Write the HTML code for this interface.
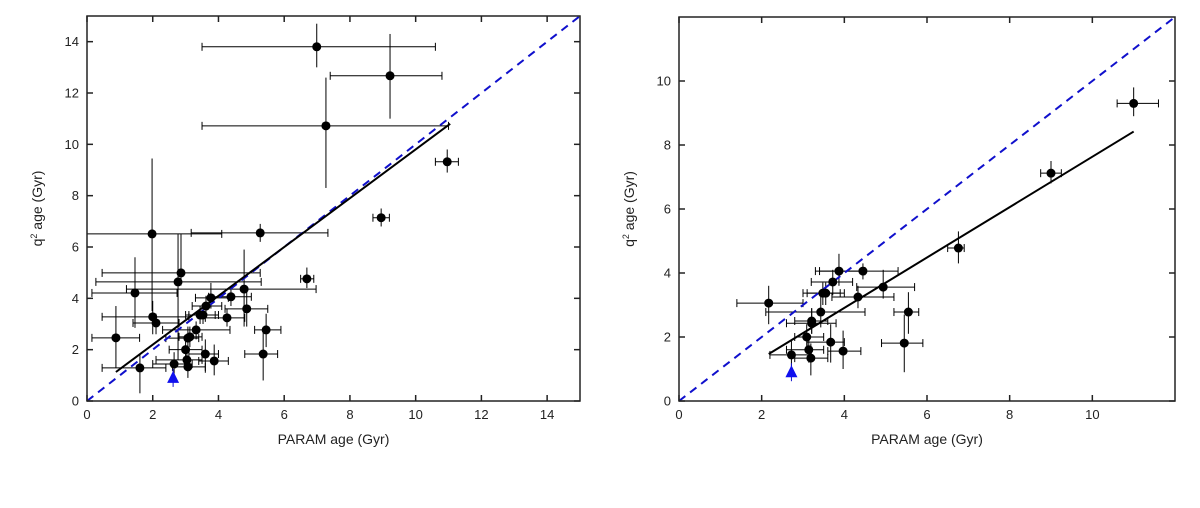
<!DOCTYPE html>
<html><head><meta charset="utf-8"><style>
body{margin:0;background:#fff;}
svg text{font-family:"Liberation Sans",sans-serif;fill:#222;}
</style></head><body>
<svg id="c" width="1200" height="503" xmlns="http://www.w3.org/2000/svg"></svg>
<script>
// Left panel data
const leftX=[1.98,5.27,2.86,2.77,1.46,0.88,1.61,2.0,2.1,3.13,3.07,3.0,3.04,3.07,2.65,3.32,3.44,3.53,3.62,3.77,4.38,4.26,4.78,4.86,3.6,3.87,5.36,5.45,6.69,6.99,9.22,7.27,10.96,8.95];
const leftY=[6.51,6.55,4.99,4.64,4.21,2.46,1.29,3.28,3.04,2.5,2.45,2.0,1.6,1.33,1.44,2.77,3.35,3.35,3.7,4.02,4.06,3.24,4.36,3.59,1.83,1.56,1.83,2.77,4.76,13.8,12.67,10.72,9.32,7.14];
const leftXlo=[0,3.17,0.46,0.27,0.15,0.15,0.46,0.46,1.4,2.8,2.4,2.5,2.1,2.6,2.0,2.3,3.0,3.1,3.2,3.3,3.7,3.6,1.2,4.2,3.1,3.4,4.8,5.1,6.5,3.5,7.4,3.5,10.6,8.7];
const leftXhi=[4.1,7.33,5.27,5.3,2.74,1.6,2.4,3.1,2.8,3.5,3.4,3.5,3.5,3.6,3.2,4.35,3.9,4.0,4.1,4.3,5.0,4.8,6.97,5.5,4.0,4.3,5.8,5.9,6.9,10.6,10.8,11.0,11.3,9.2];
const leftYlo=[3.5,6.2,4.5,1.6,2.85,1.3,0.3,2.6,2.6,2.1,2.1,1.6,1.2,0.9,1.0,2.4,3.0,3.0,3.3,3.6,3.7,2.9,2.9,2.9,1.1,1.0,0.8,2.1,4.4,13.0,11.0,8.3,8.9,6.8];
const leftYhi=[9.45,6.9,6.5,6.5,5.6,3.7,1.85,3.9,3.4,2.9,2.9,2.4,2.0,1.7,1.9,3.1,3.7,3.7,4.1,4.6,4.4,3.6,5.9,4.3,2.4,2.2,2.7,3.4,5.2,14.7,14.3,12.6,9.8,7.5];
const leftTri=[2.62,0.9];
const leftFit=[[0.88,1.13],[11.05,10.8]];
const leftTicksX=[0,2,4,6,8,10,12,14];
const leftTicksY=[0,2,4,6,8,10,12,14];
// Right panel data
const rightX=[2.17,2.72,3.09,3.14,3.19,3.21,3.21,3.43,3.48,3.55,3.72,3.67,3.87,3.97,4.33,4.45,4.94,5.45,5.55,6.76,9.0,11.0];
const rightY=[3.06,1.44,2.0,1.6,1.34,2.5,2.43,2.78,3.37,3.37,3.72,1.84,4.06,1.56,3.25,4.06,3.56,1.81,2.78,4.78,7.12,9.3];
const rightXlo=[1.4,2.2,2.8,2.6,2.8,2.8,2.6,2.1,3.0,3.1,3.2,3.1,3.3,3.6,3.7,3.4,4.3,4.9,5.2,6.5,8.75,10.6];
const rightXhi=[3.0,3.2,3.5,3.5,3.6,3.6,3.8,4.5,3.9,4.0,4.2,4.0,4.5,4.4,5.2,5.3,5.7,5.9,5.8,6.9,9.25,11.6];
const rightYlo=[2.4,1.0,1.7,1.2,0.8,2.1,2.1,2.3,3.0,3.0,3.3,1.2,3.6,1.0,2.9,3.8,3.2,0.9,2.1,4.3,6.8,8.9];
const rightYhi=[3.6,1.9,2.4,2.0,1.8,2.9,2.9,3.3,3.7,3.7,4.1,2.4,4.6,2.2,3.6,4.3,4.1,2.7,3.4,5.3,7.5,9.8];
const rightTri=[2.72,0.9];
const rightFit=[[2.17,1.47],[11.0,8.42]];
const rightTicksX=[0,2,4,6,8,10];
const rightTicksY=[0,2,4,6,8,10];

const svg=document.getElementById('c');
const NS='http://www.w3.org/2000/svg';
function mk(tag,at,parent,name){const e=document.createElementNS(NS,tag);for(const k in at)e.setAttribute(k,at[k]);


(parent||svg).appendChild(e);return e;}
function panel(id,box,xmax,ymax,X,Y,Xlo,Xhi,Ylo,Yhi,tri,fit,tx,ty){
 const g=mk('g',{},svg,id);
 const sx=v=>box.x0+(box.x1-box.x0)*v/xmax, sy=v=>box.y1-(box.y1-box.y0)*v/ymax;
 // error bars
 for(let i=0;i<X.length;i++){
  const cx=sx(X[i]),cy=sy(Y[i]);
  mk('line',{x1:sx(Xlo[i]),x2:sx(Xhi[i]),y1:cy,y2:cy,stroke:'#000','stroke-width':1},g,'x-error-bar');
  mk('line',{x1:sx(Xlo[i]),x2:sx(Xlo[i]),y1:cy-4,y2:cy+4,stroke:'#000','stroke-width':1},g,'x-error-cap');
  mk('line',{x1:sx(Xhi[i]),x2:sx(Xhi[i]),y1:cy-4,y2:cy+4,stroke:'#000','stroke-width':1},g,'x-error-cap');
  mk('line',{x1:cx,x2:cx,y1:sy(Ylo[i]),y2:sy(Yhi[i]),stroke:'#000','stroke-width':1},g,'y-error-bar');
 }
 mk('line',{x1:sx(0),y1:sy(0),x2:sx(Math.min(xmax,ymax)),y2:sy(Math.min(xmax,ymax)),stroke:'#1010cc','stroke-width':2,'stroke-dasharray':'8,6'},g,'one-to-one-line');
 mk('line',{x1:sx(fit[0][0]),y1:sy(fit[0][1]),x2:sx(fit[1][0]),y2:sy(fit[1][1]),stroke:'#000','stroke-width':2},g,'fit-line');
 for(let i=0;i<X.length;i++) mk('circle',{cx:sx(X[i]),cy:sy(Y[i]),r:4.5,fill:'#000'},g,'data-point');
 const tx0=sx(tri[0]),ty0=sy(tri[1]);
 mk('line',{x1:tx0,x2:tx0,y1:ty0-9,y2:ty0+9,stroke:'#1010cc','stroke-width':1},g,'sun-error-bar');
 mk('polygon',{points:`${tx0},${ty0-7} ${tx0-6},${ty0+5} ${tx0+6},${ty0+5}`,fill:'#1010ee'},g,'sun-marker');
 mk('rect',{x:box.x0,y:box.y0,width:box.x1-box.x0,height:box.y1-box.y0,fill:'none',stroke:'#222','stroke-width':1.5},g,'plot-frame');
 for(const t of tx){const x=sx(t);
  mk('line',{x1:x,x2:x,y1:box.y1,y2:box.y1-6,stroke:'#222','stroke-width':1.5},g,'x-tick');
  mk('line',{x1:x,x2:x,y1:box.y0,y2:box.y0+6,stroke:'#222','stroke-width':1.5},g,'x-tick');
  const tt=mk('text',{x:x,y:box.y1+18,'text-anchor':'middle','font-size':13},g,'x-tick-label');tt.textContent=t;}
 for(const t of ty){const y=sy(t);
  mk('line',{x1:box.x0,x2:box.x0+6,y1:y,y2:y,stroke:'#222','stroke-width':1.5},g,'y-tick');
  mk('line',{x1:box.x1,x2:box.x1-6,y1:y,y2:y,stroke:'#222','stroke-width':1.5},g,'y-tick');
  const tt=mk('text',{x:box.x0-8,y:y+4.5,'text-anchor':'end','font-size':13},g,'y-tick-label');tt.textContent=t;}
 const xl=mk('text',{x:(box.x0+box.x1)/2,y:box.y1+43,'text-anchor':'middle','font-size':14},g,'x-axis-title');xl.textContent='PARAM age (Gyr)';
 const yl=mk('text',{x:0,y:0,'text-anchor':'middle','font-size':14,transform:`translate(${box.x0-45},${(box.y0+box.y1)/2}) rotate(-90)`},g,'y-axis-title');
 yl.innerHTML='q<tspan dy="-5" font-size="9">2</tspan><tspan dy="5"> age (Gyr)</tspan>';
}
panel('left-panel',{x0:87,x1:580,y0:16,y1:401},15,15,leftX,leftY,leftXlo,leftXhi,leftYlo,leftYhi,leftTri,leftFit,leftTicksX,leftTicksY);
panel('right-panel',{x0:679,x1:1175,y0:17,y1:401},12,12,rightX,rightY,rightXlo,rightXhi,rightYlo,rightYhi,rightTri,rightFit,rightTicksX,rightTicksY);
</script>
</body></html>
